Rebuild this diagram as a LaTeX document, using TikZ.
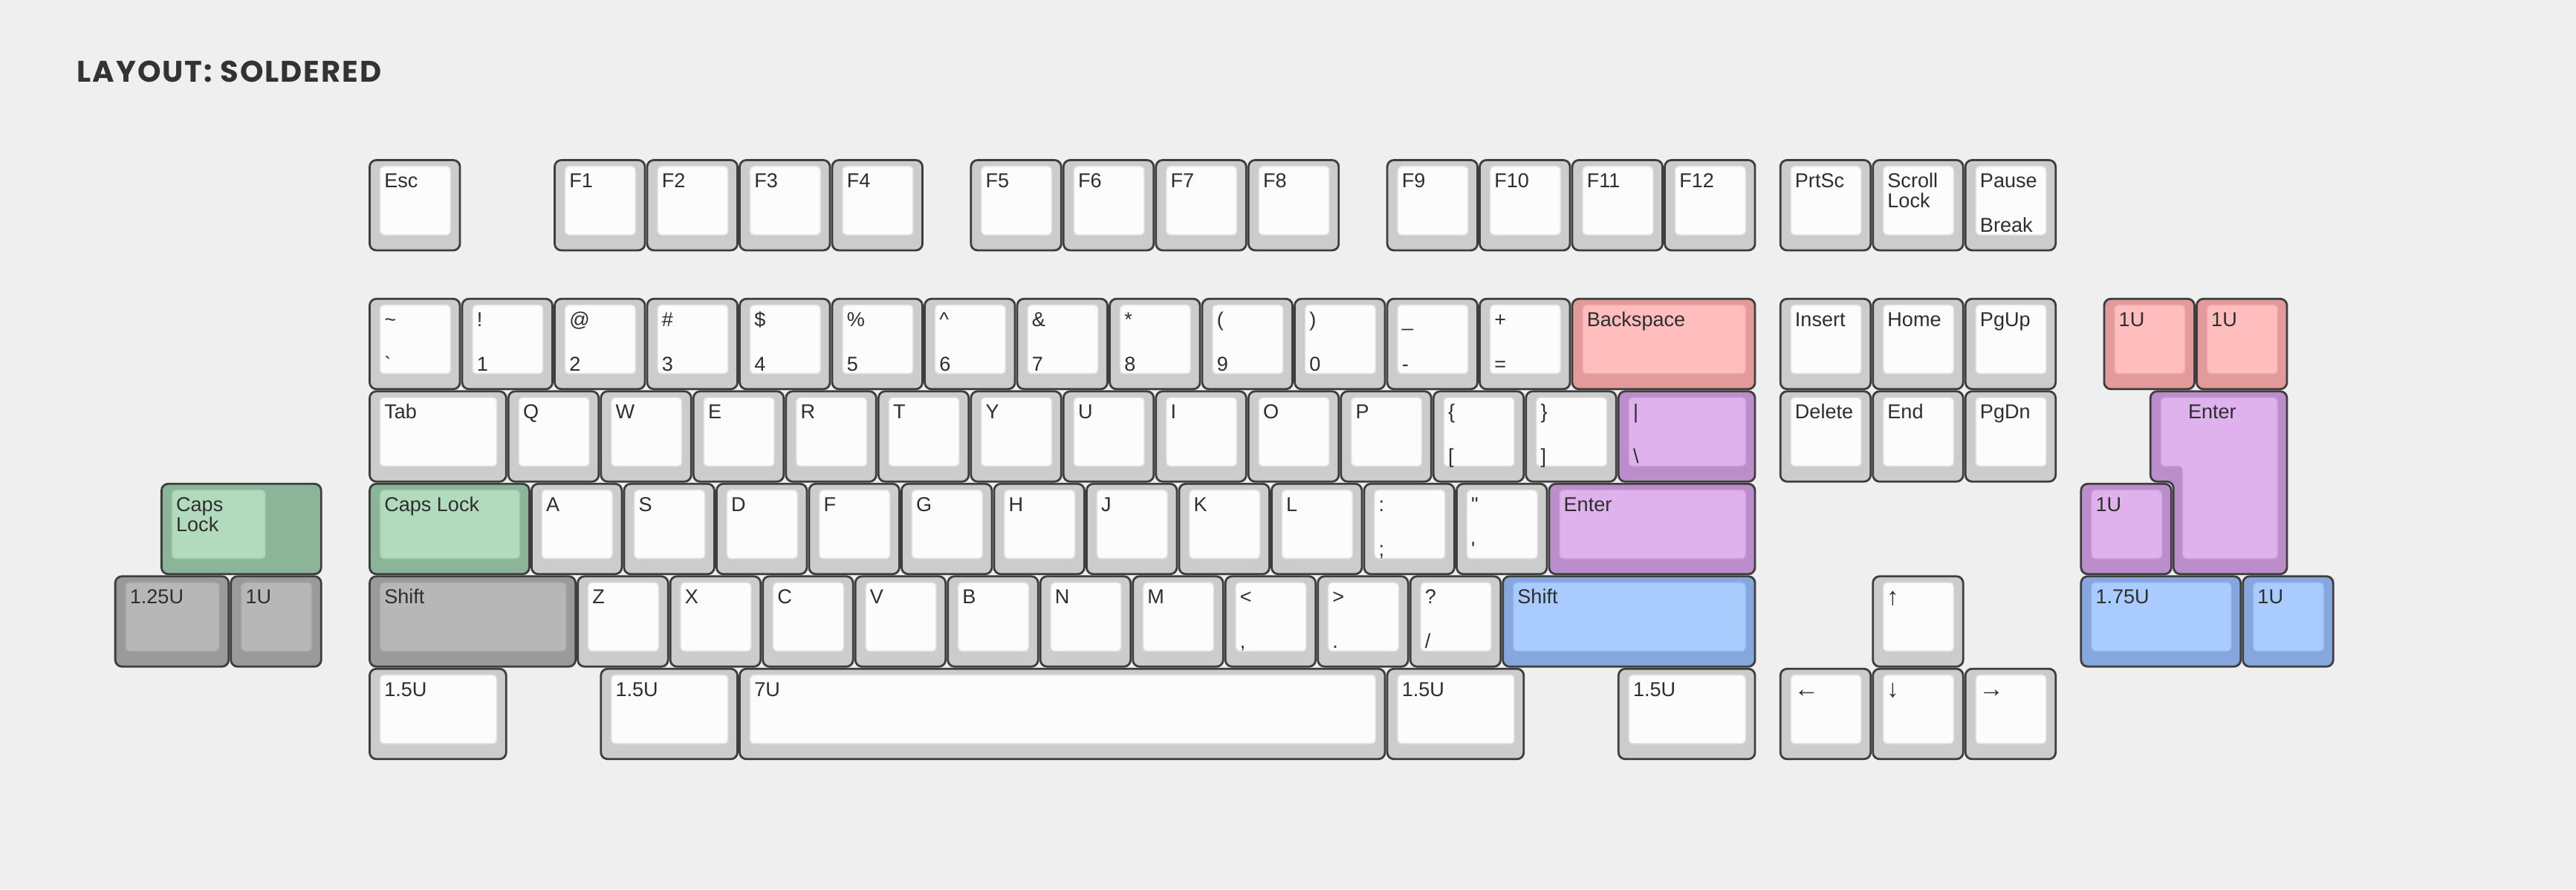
\documentclass[tikz,border=0pt]{standalone}
\usepackage{fontspec}
\setmainfont{Liberation Sans}
\newfontfamily\titlefont{Poppins}[LetterSpace=5]
\definecolor{bg}{HTML}{EFEFEF}
\definecolor{rimline}{HTML}{3E3E3E}
\definecolor{legendtext}{HTML}{2E2E2E}
\definecolor{titletext}{HTML}{333333}
\definecolor{wout}{HTML}{CCCCCC}\definecolor{win}{HTML}{FCFCFC}\definecolor{wedge}{HTML}{E4E4E4}
\definecolor{rout}{HTML}{E39A9A}\definecolor{rin}{HTML}{FFBDBD}\definecolor{redge}{HTML}{F2ABAB}
\definecolor{pout}{HTML}{BB8ECB}\definecolor{pin}{HTML}{DFB2EE}\definecolor{pedge}{HTML}{CFA2DF}
\definecolor{bout}{HTML}{86A7DE}\definecolor{bin}{HTML}{AACBFD}\definecolor{bedge}{HTML}{99BAEE}
\definecolor{gout}{HTML}{8BB499}\definecolor{gin}{HTML}{B2DBBE}\definecolor{gedge}{HTML}{A0C8AC}
\definecolor{kout}{HTML}{9A9A9A}\definecolor{kin}{HTML}{B7B7B7}\definecolor{kedge}{HTML}{AAAAAA}
\tikzset{
  keyrim/.style={draw=rimline, line width=0.28mm, rounded corners=0.9mm},
  keytop/.style={line width=0.15mm, rounded corners=0.5mm},
  legend/.style={anchor=base west, inner sep=0pt, text=legendtext, font=\fontsize{7.7}{7.7}\selectfont},
  arrowlegend/.style={legend, font=\fontsize{9.5}{9.5}\selectfont},
  title/.style={anchor=base west, inner sep=0pt, text=titletext, font=\titlefont\bfseries\fontsize{11.4}{12}\selectfont}
}
% [colour]{x}{y}{width}{name}{top legend}{bottom legend}
\newcommand{\kcap}[7][w]{%
  \draw[keyrim, fill=#1out] ({#2+0.012},{#3+0.012}) rectangle ({#2+#4-0.012},{#3+0.988});
  \filldraw[keytop, fill=#1in, draw=#1edge] ({#2+0.125},{#3+0.08}) rectangle ({#2+#4-0.115},{#3+0.82});
  \node[legend] (#5) at ({#2+0.165},{#3+0.31}) {#6};
  \node[legend] (#5b) at ({#2+0.165},{#3+0.79}) {#7};
}
\begin{document}
\begin{tikzpicture}[x=1.245cm, y=-1.245cm]
\fill[bg, use as bounding box] (-3.984,-1.719) rectangle (23.863,7.896);
\node[title] (ttl) at (-3.157,-0.835) {LAYOUT: SOLDERED};
% function row
\kcap{0}{0}{1}{esc}{Esc}{}
\foreach \x [count=\i] in {2,3,4,5,6.5,7.5,8.5,9.5,11,12,13,14} {\kcap{\x}{0}{1}{f\i}{F\i}{}}
\kcap{15.25}{0}{1}{prt}{PrtSc}{}
\kcap{16.25}{0}{1}{scr}{Scroll}{}
\node[legend] (scr2) at (16.415,0.53) {Lock};
\kcap{17.25}{0}{1}{pau}{Pause}{Break}
% number row
\foreach \x/\tp/\bt in {0/\textasciitilde/\textasciigrave,1/!/1,2/@/2,3/\#/3,4/\$/4,5/\%/5,6/\textasciicircum/6,7/\&/7,8/*/8,9/(/9,10/)/0,11/\_/-,12/+/=}
  {\kcap{\x}{1.5}{1}{n\x}{\tp}{\bt}}
\kcap[r]{13}{1.5}{2}{bksp}{Backspace}{}
\kcap{15.25}{1.5}{1}{ins}{Insert}{}
\kcap{16.25}{1.5}{1}{home}{Home}{}
\kcap{17.25}{1.5}{1}{pgup}{PgUp}{}
\kcap[r]{18.75}{1.5}{1}{ra}{1U}{}
\kcap[r]{19.75}{1.5}{1}{rb}{1U}{}
% top letter row
\kcap{0}{2.5}{1.5}{tab}{Tab}{}
\foreach \x/\l in {1.5/Q,2.5/W,3.5/E,4.5/R,5.5/T,6.5/Y,7.5/U,8.5/I,9.5/O,10.5/P}
  {\kcap{\x}{2.5}{1}{\l}{\l}{}}
\kcap{11.5}{2.5}{1}{lbr}{\{}{[}
\kcap{12.5}{2.5}{1}{rbr}{\}}{]}
\kcap[p]{13.5}{2.5}{1.5}{bsl}{|}{\textbackslash}
\kcap{15.25}{2.5}{1}{del}{Delete}{}
\kcap{16.25}{2.5}{1}{end}{End}{}
\kcap{17.25}{2.5}{1}{pgdn}{PgDn}{}
% iso enter
\draw[keyrim, fill=pout] (19.262,2.512) -- (20.738,2.512) -- (20.738,4.488) -- (19.512,4.488) -- (19.512,3.488) -- (19.262,3.488) -- cycle;
\filldraw[keytop, fill=pin, draw=pedge] (19.375,2.58) -- (20.635,2.58) -- (20.635,4.32) -- (19.61,4.32) -- (19.61,3.32) -- (19.375,3.32) -- cycle;
\node[legend, anchor=base] (isoent) at (19.93,2.81) {Enter};
% home row
\kcap[g]{0}{3.5}{1.75}{caps}{Caps Lock}{}
\foreach \x/\l in {1.75/A,2.75/S,3.75/D,4.75/F,5.75/G,6.75/H,7.75/J,8.75/K,9.75/L}
  {\kcap{\x}{3.5}{1}{\l}{\l}{}}
\kcap{10.75}{3.5}{1}{scol}{:}{;}
\kcap{11.75}{3.5}{1}{quot}{\textquotedbl}{\textquotesingle}
\kcap[p]{12.75}{3.5}{2.25}{ent}{Enter}{}
\kcap[p]{18.5}{3.5}{1}{pa}{1U}{}
% stepped caps
\draw[keyrim, fill=gout] (-2.238,3.512) rectangle (-0.512,4.488);
\filldraw[keytop, fill=gin, draw=gedge] (-2.125,3.58) rectangle (-1.115,4.32);
\node[legend] (lcaps) at (-2.085,3.81) {Caps};
\node[legend] (lcaps2) at (-2.085,4.03) {Lock};
% bottom letter row
\kcap[k]{0}{4.5}{2.25}{lsh}{Shift}{}
\foreach \x/\l in {2.25/Z,3.25/X,4.25/C,5.25/V,6.25/B,7.25/N,8.25/M}
  {\kcap{\x}{4.5}{1}{\l}{\l}{}}
\kcap{9.25}{4.5}{1}{comm}{<}{,}
\kcap{10.25}{4.5}{1}{dot}{>}{.}
\kcap{11.25}{4.5}{1}{slsh}{?}{/}
\kcap[b]{12.25}{4.5}{2.75}{rsh}{Shift}{}
\kcap{16.25}{4.5}{1}{up}{}{}
\node[arrowlegend] (upa) at (16.405,4.82) {↑};
\kcap[k]{-2.75}{4.5}{1.25}{ka}{1.25U}{}
\kcap[k]{-1.5}{4.5}{1}{kb}{1U}{}
\kcap[b]{18.5}{4.5}{1.75}{ba}{1.75U}{}
\kcap[b]{20.25}{4.5}{1}{bb}{1U}{}
% space row
\foreach \x/\w/\l [count=\i] in {0/1.5/1.5U,2.5/1.5/1.5U,4/7/7U,11/1.5/1.5U,13.5/1.5/1.5U}
  {\kcap{\x}{5.5}{\w}{sp\i}{\l}{}}
\kcap{15.25}{5.5}{1}{left}{}{}
\kcap{16.25}{5.5}{1}{down}{}{}
\kcap{17.25}{5.5}{1}{right}{}{}
\node[arrowlegend] (lefta) at (15.405,5.82) {←};
\node[arrowlegend] (downa) at (16.405,5.82) {↓};
\node[arrowlegend] (righta) at (17.405,5.82) {→};
\end{tikzpicture}
\end{document}
